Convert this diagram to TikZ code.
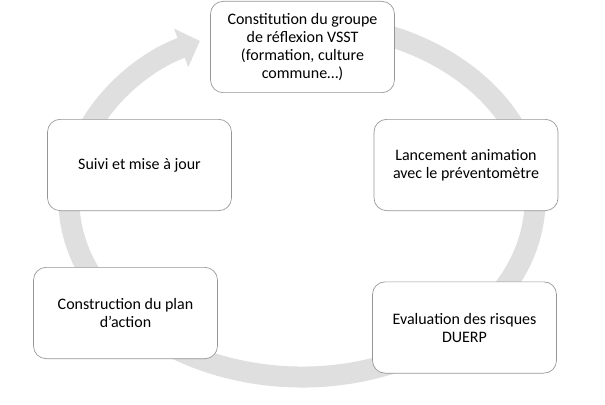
\documentclass[tikz,border=0pt]{standalone}
\usepackage{fontspec}
\setmainfont{Carlito}
\usepackage{xcolor}
\definecolor{cyclegray}{RGB}{223,223,223}
\definecolor{boxgray}{RGB}{150,150,150}
\usetikzlibrary{positioning,arrows.meta}

\begin{document}
\begin{tikzpicture}[x=0.75pt, y=0.75pt,
		etape/.style={draw=boxgray, line width=0.5pt, fill=white, rounded corners=9.5pt,
			minimum width=138pt, minimum height=68.5pt, align=center,
			font=\fontsize{12}{13.5}\selectfont}]
				\useasboundingbox (0,0) rectangle (605,404);
				% cycle arrow behind the boxes
				\draw [line width=15.75pt, cyclegray, -{Triangle[length=15pt, width=30pt]}] (302,204) ++(75:233 and 177) arc [start angle=75, end angle=-244, x radius=233, y radius=177];
				\node[etape] (constitution) at (302.5,357) {Constitution du groupe\\de réflexion VSST\\(formation, culture\\commune…)};
				\node[etape] (lancement) at (466,239) {Lancement animation\\avec le préventomètre};
				\node[etape] (evaluation) at (464.5,76.5) {Evaluation des risques\\DUERP};
				\node[etape] (construction) at (125.5,91) {Construction du plan\\d’action};
				\node[etape] (suivi) at (139.5,239) {Suivi et mise à jour};
			\end{tikzpicture}
\end{document}
